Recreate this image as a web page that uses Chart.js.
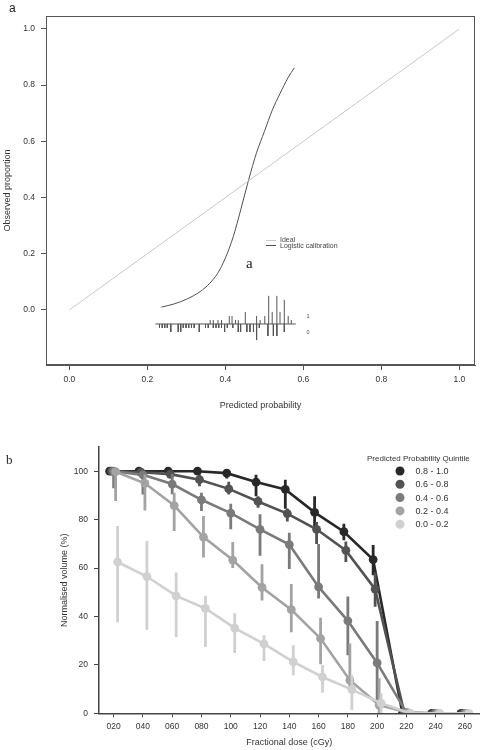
<!DOCTYPE html>
<html>
<head>
<meta charset="utf-8">
<script src="https://cdn.jsdelivr.net/npm/chart.js@4.4.1/dist/chart.umd.min.js"></script>
<style>
  html, body { margin: 0; padding: 0; background: #fff; }
  #wrap { position: relative; width: 484px; height: 750px; overflow: hidden; }
  canvas { position: absolute; left: 0; top: 0; }
  .lbl { position: absolute; color: #222; line-height: 1; }
</style>
</head>
<body>
<div id="wrap">
  <canvas id="calib" width="484" height="750"></canvas>
  <canvas id="dose" width="484" height="750"></canvas>
  <div class="lbl" style="left:9px;top:1px;font:12px 'Liberation Sans',Arial,sans-serif;">a</div>
  <div class="lbl" style="left:246px;top:255px;font:15px 'Liberation Serif','Times New Roman',serif;">a</div>
  <div class="lbl" style="left:6px;top:452px;font:13px 'Liberation Serif','Times New Roman',serif;">b</div>
</div>
<script>
// ---- panel a: calibration plot ----
const calibTicks = [0, 0.2, 0.4, 0.6, 0.8, 1.0];
const idealX = [0, 1];
const idealY = [0, 1];
// logistic calibration curve
const logisticX = [0.236, 0.27, 0.30, 0.335, 0.36, 0.38, 0.40, 0.42, 0.44, 0.46, 0.48, 0.50, 0.52, 0.54, 0.56, 0.577];
const logisticY = [0.010, 0.022, 0.038, 0.065, 0.095, 0.13, 0.185, 0.26, 0.36, 0.465, 0.56, 0.635, 0.71, 0.77, 0.825, 0.862];
// spike histogram: outcome 1 (up) and outcome 0 (down), relative counts
const rugOneX = [0.361, 0.369, 0.381, 0.390, 0.410, 0.417, 0.426, 0.433, 0.451, 0.480, 0.489, 0.501, 0.511, 0.520, 0.532, 0.540, 0.551, 0.561, 0.569];
const rugOneN = [1, 1, 1, 1, 2, 2, 1, 1, 3, 2, 1, 2, 7, 3, 7, 3, 6, 2, 1];
const rugZeroX = [0.231, 0.238, 0.2445, 0.251, 0.260, 0.279, 0.2855, 0.292, 0.299, 0.306, 0.313, 0.320, 0.333, 0.349, 0.356, 0.369, 0.376, 0.383, 0.390, 0.398, 0.405, 0.419, 0.433, 0.439, 0.455, 0.463, 0.472, 0.480, 0.487, 0.509, 0.523, 0.532, 0.551];
const rugZeroN = [1, 1, 1, 1, 2, 2, 2, 1, 1, 1, 1, 1, 2, 1, 1, 1, 1, 1, 1, 2, 1, 1, 2, 2, 2, 2, 2, 4, 1, 3, 3, 3, 2];
const rugRange = [0.2205, 0.5805];

// ---- panel b: dose-volume curves ----
const doseLabels = ['020', '040', '060', '080', '100', '120', '140', '160', '180', '200', '220', '240', '260'];
const quintiles = ['0.8 - 1.0', '0.6 - 0.8', '0.4 - 0.6', '0.2 - 0.4', '0.0 - 0.2'];
const volQ5 = [100, 100, 100, 100, 99.2, 95.5, 92.5, 83, 75, 63.5, 0, 0, 0];
const loQ5  = [100, 100, 99.5, 99.5, 97, 89.7, 84.5, 77.4, 71.5, 57, 0, 0, 0];
const hiQ5  = [100, 100, 100, 100, 100, 98.5, 96.5, 89.7, 78.3, 69.5, 0, 0, 0];
const volQ4 = [100, 99.6, 98.8, 96.5, 92.7, 87.5, 82.5, 76, 67.3, 51.3, 0, 0, 0];
const loQ4  = [100, 98.5, 97, 93.8, 90.4, 84.9, 79.2, 69.9, 62.5, 44, 0, 0, 0];
const hiQ4  = [100, 100, 100, 98.5, 95.6, 89.7, 84.6, 79, 71, 58, 0, 0, 0];
const volQ3 = [100, 98.5, 94.7, 88.2, 82.7, 76, 69.7, 52.2, 38.2, 20.8, 0.3, 0, 0];
const loQ3  = [93, 90.4, 90.5, 83.6, 76, 65.1, 59.6, 47.4, 24, 3.4, 0, 0, 0];
const hiQ3  = [100, 99.6, 98.8, 91.1, 86.6, 82.2, 74.6, 69.9, 48.2, 38.1, 0.5, 0, 0];
const volQ2 = [99.8, 95, 85.8, 72.8, 63.3, 52, 42.8, 30.9, 13.7, 3.4, 0.2, 0, 0];
const loQ2  = [87.7, 83.8, 75.3, 64.4, 60, 46.6, 33.5, 20.3, 9.6, 0, 0, 0, 0];
const hiQ2  = [100, 98.6, 91.1, 81.5, 70.8, 61.6, 53.4, 39.5, 28.8, 14.5, 0.5, 0, 0];
const volQ1 = [62.5, 56.5, 48.5, 43.3, 35.2, 28.7, 21.2, 15, 9.8, 4.2, 0, 0, 0];
const loQ1  = [37.6, 34.5, 31.5, 27.4, 24.9, 21.6, 15.7, 8.5, 1.4, 0, 0, 0, 0];
const hiQ1  = [77.4, 71.2, 58.2, 48.6, 41.3, 32.2, 28.1, 19.9, 15.7, 8.3, 0, 0, 0];
const volumeTicks = [0, 20, 40, 60, 80, 100];

const FONT = "'Liberation Sans', Arial, sans-serif";
const RUG_BASE = -0.05;
const RUG_UNIT = 0.0143;

function spikes(xs, ns, dir) {
  const pts = [];
  xs.forEach((x, i) => {
    pts.push({x: x, y: RUG_BASE});
    pts.push({x: x, y: RUG_BASE + dir * ns[i] * RUG_UNIT});
    pts.push({x: x, y: null});
  });
  return pts;
}

// box round the plot + small legend + rug labels
const calibExtras = {
  id: 'calibExtras',
  afterDraw(chart) {
    const {ctx, chartArea: a, scales} = chart;
    ctx.save();
    ctx.strokeStyle = '#555';
    ctx.lineWidth = 1;
    ctx.strokeRect(a.left + 0.5, a.top + 0.5, a.right - a.left - 1, a.bottom - a.top - 1);

    ctx.font = '7px ' + FONT;
    ctx.textBaseline = 'middle';
    ctx.fillStyle = '#444';
    ctx.strokeStyle = '#c8c8c8';
    ctx.beginPath(); ctx.moveTo(266, 240.5); ctx.lineTo(276, 240.5); ctx.stroke();
    ctx.fillText('Ideal', 280, 240);
    ctx.strokeStyle = '#505050';
    ctx.beginPath(); ctx.moveTo(266, 245.5); ctx.lineTo(276, 245.5); ctx.stroke();
    ctx.fillText('Logistic calibration', 280, 246.5);

    ctx.font = '5.5px ' + FONT;
    const lx = scales.x.getPixelForValue(0.6) + 3;
    ctx.fillText('1', lx, scales.y.getPixelForValue(RUG_BASE + 0.027));
    ctx.fillText('0', lx, scales.y.getPixelForValue(RUG_BASE - 0.032));
    ctx.restore();
  }
};

new Chart(document.getElementById('calib'), {
  type: 'line',
  data: {
    datasets: [
      {
        data: idealX.map((x, i) => ({x: x, y: idealY[i]})),
        borderColor: '#c8c8c8', borderWidth: 1
      },
      {
        data: logisticX.map((x, i) => ({x: x, y: logisticY[i]})),
        borderColor: '#505050', borderWidth: 1, cubicInterpolationMode: 'monotone'
      },
      {
        data: [{x: rugRange[0], y: RUG_BASE}, {x: rugRange[1], y: RUG_BASE}],
        borderColor: '#555', borderWidth: 1
      },
      { data: spikes(rugOneX, rugOneN, 1), borderColor: '#555', borderWidth: 1, spanGaps: false },
      { data: spikes(rugZeroX, rugZeroN, -1), borderColor: '#555', borderWidth: 1, spanGaps: false }
    ]
  },
  options: {
    responsive: false,
    animation: false,
    events: [],
    layout: { padding: {left: 0, top: 16, right: 9, bottom: 330} },
    elements: { point: {radius: 0}, line: {tension: 0} },
    plugins: { legend: {display: false}, tooltip: {enabled: false} },
    scales: {
      x: {
        type: 'linear', min: -0.06, max: 1.04,
        afterBuildTicks: s => { s.ticks = calibTicks.map(v => ({value: v})); },
        afterFit: s => { s.height = 55; },
        grid: { drawOnChartArea: false, tickLength: 5, tickColor: '#555' },
        border: { color: '#555' },
        ticks: { callback: v => v.toFixed(1), color: '#333', font: {size: 8.5, family: FONT}, padding: 5, maxRotation: 0, autoSkip: false },
        title: { display: true, text: 'Predicted probability', color: '#333', font: {size: 9, family: FONT}, padding: {top: 0, bottom: 9} }
      },
      y: {
        type: 'linear', min: -0.196, max: 1.046,
        afterBuildTicks: s => { s.ticks = calibTicks.map(v => ({value: v})); },
        afterFit: s => { s.width = 46; },
        grid: { drawOnChartArea: false, tickLength: 5, tickColor: '#555' },
        border: { color: '#555' },
        ticks: { callback: v => v.toFixed(1), color: '#333', font: {size: 8.5, family: FONT}, padding: 6, autoSkip: false },
        title: { display: true, text: 'Observed proportion', color: '#333', font: {size: 9, family: FONT}, padding: {top: 2, bottom: 0} }
      }
    }
  },
  plugins: [calibExtras]
});

// ---- panel b chart ----
const shades = ['#282828', '#525252', '#7a7a7a', '#a3a3a3', '#d0d0d0'];
const dodge = [-0.136, -0.068, 0, 0.068, 0.136];
const series = [
  [volQ5, loQ5, hiQ5], [volQ4, loQ4, hiQ4], [volQ3, loQ3, hiQ3], [volQ2, loQ2, hiQ2], [volQ1, loQ1, hiQ1]
];

const doseSets = [];
series.forEach(([vals, lo, hi], s) => {
  const bars = [];
  vals.forEach((v, i) => {
    bars.push({x: i + dodge[s], y: lo[i]});
    bars.push({x: i + dodge[s], y: hi[i]});
    bars.push({x: i + dodge[s], y: null});
  });
  doseSets.push({
    label: quintiles[s] + ' ci',
    data: bars, borderColor: shades[s], borderWidth: 2.8,
    pointRadius: 0, spanGaps: false, clip: 0, order: 11 - 2 * s
  });
  doseSets.push({
    label: quintiles[s],
    data: vals.map((v, i) => ({x: i + dodge[s], y: v})),
    borderColor: shades[s], backgroundColor: shades[s], borderWidth: 2.6,
    pointRadius: 4.4, pointBorderWidth: 0, pointBackgroundColor: shades[s],
    clip: 0, order: 10 - 2 * s
  });
});

const doseLegend = {
  id: 'doseLegend',
  afterDraw(chart) {
    const {ctx} = chart;
    ctx.save();
    ctx.fillStyle = '#333';
    ctx.textBaseline = 'middle';
    ctx.font = '8px ' + FONT;
    ctx.fillText('Predicted Probability Quintile', 367, 458.5);
    ctx.font = '9px ' + FONT;
    quintiles.forEach((q, s) => {
      const y = 471 + s * 13.3;
      ctx.fillStyle = shades[s];
      ctx.beginPath(); ctx.arc(400, y, 4.5, 0, Math.PI * 2); ctx.fill();
      ctx.fillStyle = '#333';
      ctx.fillText(q, 415.5, y + 0.5);
    });
    ctx.restore();
  }
};

new Chart(document.getElementById('dose'), {
  type: 'line',
  data: { datasets: doseSets },
  options: {
    responsive: false,
    animation: false,
    events: [],
    layout: { padding: {left: 55, top: 447, right: 3.5, bottom: 0} },
    elements: { line: {tension: 0} },
    plugins: { legend: {display: false}, tooltip: {enabled: false} },
    scales: {
      x: {
        type: 'linear', min: -0.5, max: 12.5,
        afterBuildTicks: s => { s.ticks = doseLabels.map((d, i) => ({value: i})); },
        afterFit: s => { s.height = 36.7; },
        grid: { drawOnChartArea: false, tickLength: 4, tickColor: '#444' },
        border: { color: '#444', width: 1.5, z: 1 },
        ticks: { callback: v => doseLabels[v], color: '#333', font: {size: 8.5, family: FONT}, padding: 4, maxRotation: 0, autoSkip: false },
        title: { display: true, text: 'Fractional dose (cGy)', color: '#333', font: {size: 9, family: FONT}, padding: {top: 0, bottom: 2} }
      },
      y: {
        type: 'linear', min: 0, max: 110,
        afterBuildTicks: s => { s.ticks = volumeTicks.map(v => ({value: v})); },
        afterFit: s => { s.width = 44; },
        grid: { drawOnChartArea: false, tickLength: 5, tickColor: '#444' },
        border: { color: '#444', width: 1.5, z: 1 },
        ticks: { color: '#333', font: {size: 8.5, family: FONT}, padding: 6, autoSkip: false },
        title: { display: true, text: 'Normalised volume (%)', color: '#333', font: {size: 9, family: FONT}, padding: {top: 4, bottom: 0} }
      }
    }
  },
  plugins: [doseLegend]
});
</script>
</body>
</html>
